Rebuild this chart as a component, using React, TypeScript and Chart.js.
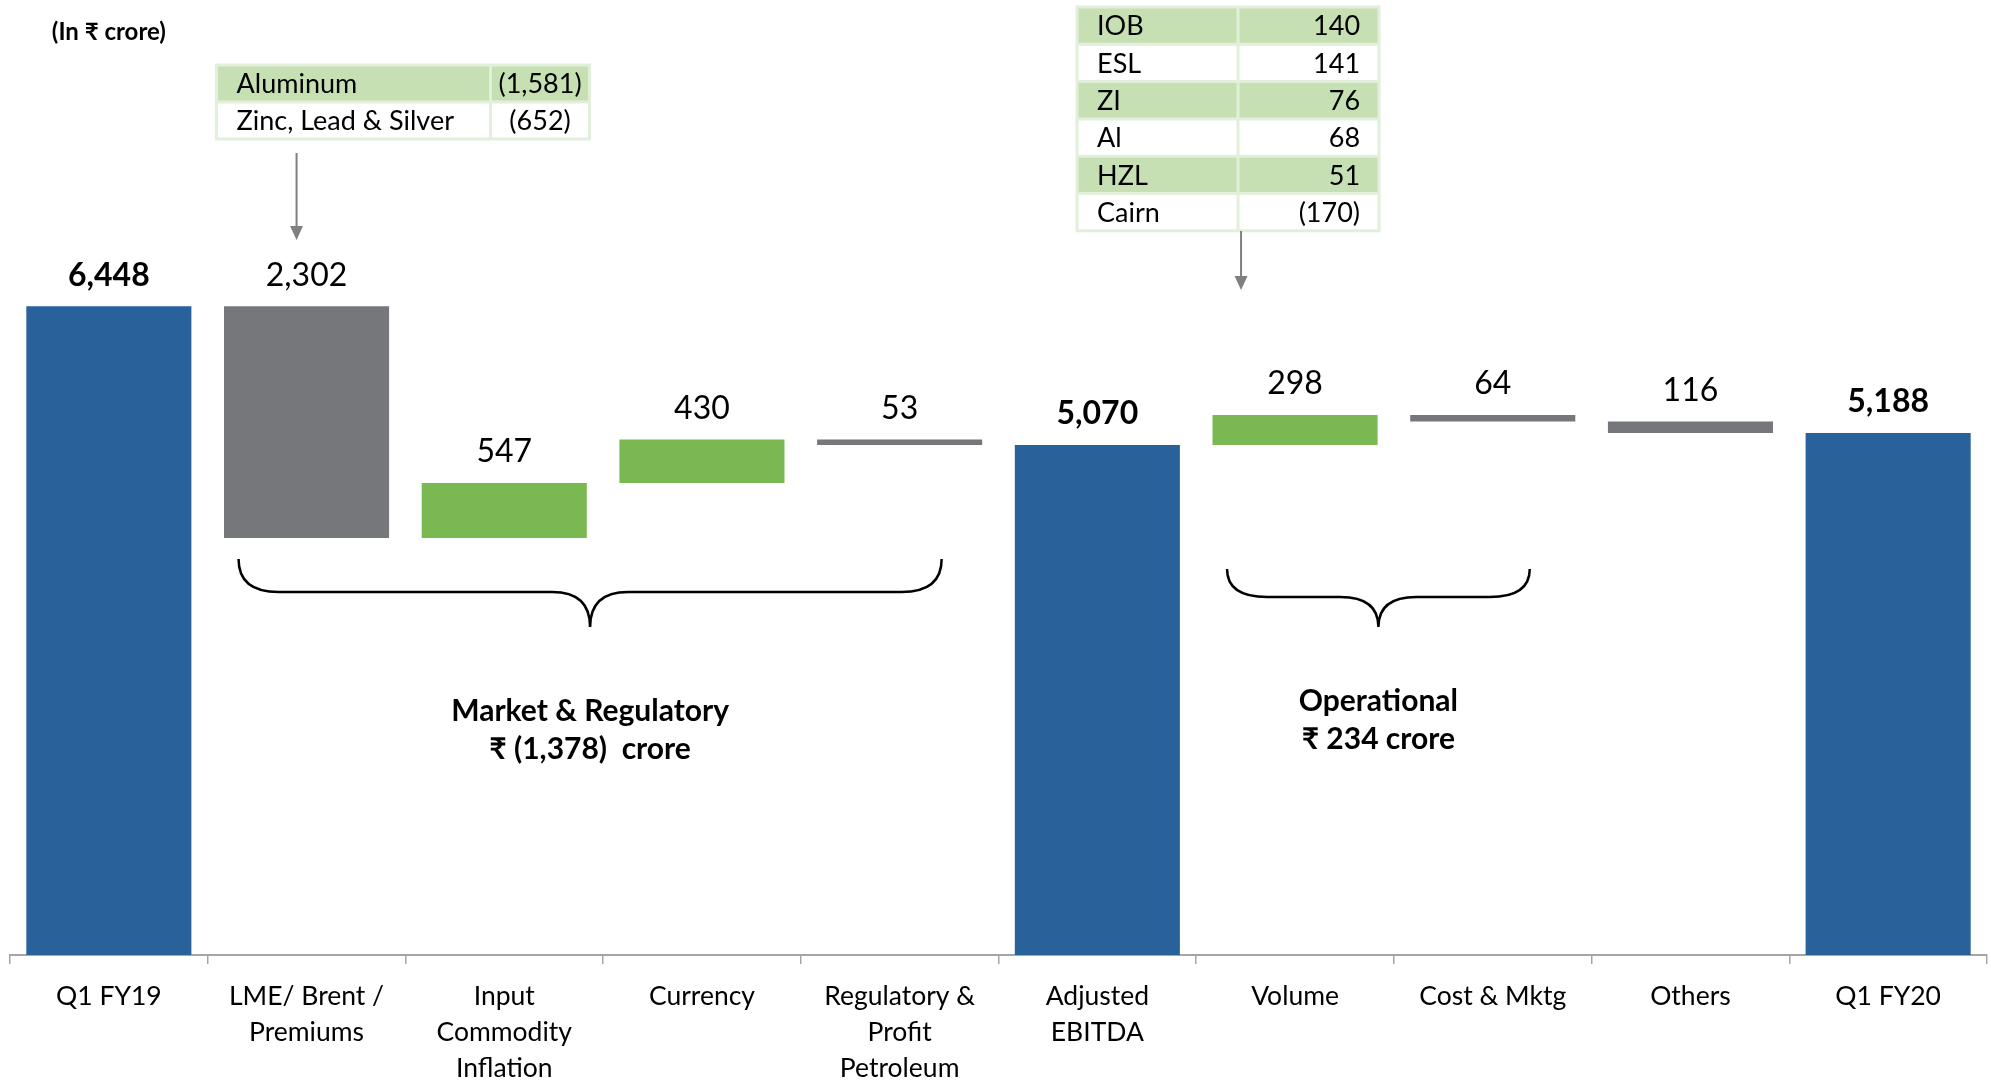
import React, { useEffect, useRef } from "react";
import { Chart, registerables } from "chart.js";

Chart.register(...registerables);

// ---------------- data ----------------
const categories: string[][] = [
  ["Q1 FY19"],
  ["LME/ Brent /", "Premiums"],
  ["Input", "Commodity", "Inflation"],
  ["Currency"],
  ["Regulatory &", "Profit", "Petroleum"],
  ["Adjusted", "EBITDA"],
  ["Volume"],
  ["Cost & Mktg"],
  ["Others"],
  ["Q1 FY20"],
];
const changes = [6448, -2302, 547, 430, -53, 5070, 298, -64, -116, 5188];
const isTotal = [true, false, false, false, false, true, false, false, false, true];
const valueLabels = ["6,448", "2,302", "547", "430", "53", "5,070", "298", "64", "116", "5,188"];

const aluminumRows: string[][] = [
  ["Aluminum", "(1,581)"],
  ["Zinc, Lead & Silver", "(652)"],
];
const operationalRows: string[][] = [
  ["IOB", "140"],
  ["ESL", "141"],
  ["ZI", "76"],
  ["Al", "68"],
  ["HZL", "51"],
  ["Cairn", "(170)"],
];
const unitLabel = "(In ₹ crore)";
const marketLabel = ["Market & Regulatory", "₹ (1,378)  crore"];
const operationalLabel = ["Operational", "₹ 234 crore"];

// ---------------- styles ----------------
const FONT = "Lato, 'Noto Sans', 'DejaVu Sans', sans-serif";
const BLUE = "#29619A";
const GRAY = "#76777B";
const GREEN = "#7AB851";
const TABLE_GREEN = "#C6E0B4";
const TABLE_BORDER = "#E2EFDA";
const AXIS = "#A6A6A6";

let running = 0;
const ranges: number[][] = changes.map((c, i) => {
  if (isTotal[i]) {
    running = c;
    return [0, c];
  }
  const start = running;
  running += c;
  return [start, running];
});
const barColors = changes.map((c, i) => (isTotal[i] ? BLUE : c >= 0 ? GREEN : GRAY));

function drawTable(
  ctx: CanvasRenderingContext2D,
  rows: string[][],
  left: number,
  top: number,
  colW: number[],
  rowH: number,
  valueAlign: "center" | "right"
) {
  const width = colW[0] + colW[1];
  const height = rowH * rows.length;
  rows.forEach((_, i) => {
    if (i % 2 === 0) {
      ctx.fillStyle = TABLE_GREEN;
      ctx.fillRect(left, top + i * rowH, width, rowH);
    }
  });
  ctx.strokeStyle = TABLE_BORDER;
  ctx.lineWidth = 3;
  ctx.strokeRect(left, top, width, height);
  for (let i = 1; i < rows.length; i++) {
    ctx.beginPath();
    ctx.moveTo(left, top + i * rowH);
    ctx.lineTo(left + width, top + i * rowH);
    ctx.stroke();
  }
  ctx.beginPath();
  ctx.moveTo(left + colW[0], top);
  ctx.lineTo(left + colW[0], top + height);
  ctx.stroke();

  ctx.fillStyle = "#000";
  ctx.font = `27px ${FONT}`;
  ctx.textBaseline = "middle";
  rows.forEach((r, i) => {
    const cy = top + i * rowH + rowH / 2 + 1;
    ctx.textAlign = "left";
    ctx.fillText(r[0], left + 20, cy);
    if (valueAlign === "center") {
      ctx.textAlign = "center";
      ctx.fillText(r[1], left + colW[0] + colW[1] / 2, cy);
    } else {
      ctx.textAlign = "right";
      ctx.fillText(r[1], left + width - 19, cy);
    }
  });
}

function drawArrow(ctx: CanvasRenderingContext2D, x: number, y0: number, y1: number) {
  ctx.strokeStyle = "#808080";
  ctx.fillStyle = "#808080";
  ctx.lineWidth = 2;
  ctx.beginPath();
  ctx.moveTo(x, y0);
  ctx.lineTo(x, y1 - 12);
  ctx.stroke();
  ctx.beginPath();
  ctx.moveTo(x - 6.5, y1 - 14);
  ctx.lineTo(x + 6.5, y1 - 14);
  ctx.lineTo(x, y1);
  ctx.closePath();
  ctx.fill();
}

function drawBrace(
  ctx: CanvasRenderingContext2D,
  left: number,
  right: number,
  top: number,
  mid: number,
  tip: number
) {
  const cx = (left + right) / 2;
  const r1 = 40;
  const r2 = 38;
  ctx.strokeStyle = "#000";
  ctx.lineWidth = 2.5;
  ctx.beginPath();
  ctx.moveTo(left, top);
  ctx.quadraticCurveTo(left, mid, left + r1, mid);
  ctx.lineTo(cx - r2, mid);
  ctx.quadraticCurveTo(cx, mid, cx, tip);
  ctx.quadraticCurveTo(cx, mid, cx + r2, mid);
  ctx.lineTo(right - r1, mid);
  ctx.quadraticCurveTo(right, mid, right, top);
  ctx.stroke();
}

const annotationsPlugin = {
  id: "waterfallAnnotations",
  afterDatasetsDraw(chart: any) {
    const ctx: CanvasRenderingContext2D = chart.ctx;
    const meta = chart.getDatasetMeta(0);
    ctx.save();
    ctx.fillStyle = "#000";
    ctx.textAlign = "center";
    ctx.textBaseline = "middle";
    meta.data.forEach((el: any, i: number) => {
      const { x, y, base } = el.getProps(["x", "y", "base"], true);
      const top = Math.min(y, base);
      ctx.font = `${isTotal[i] ? "bold " : ""}32px ${FONT}`;
      ctx.fillText(valueLabels[i], x, top - 31);
    });
    ctx.restore();
  },
  afterDraw(chart: any) {
    const ctx: CanvasRenderingContext2D = chart.ctx;
    const xs = chart.scales.x;
    const px = (i: number) => xs.getPixelForValue(i);
    ctx.save();

    // unit label
    ctx.fillStyle = "#000";
    ctx.font = `bold 24px ${FONT}`;
    ctx.textAlign = "center";
    ctx.textBaseline = "middle";
    ctx.fillText(unitLabel, px(0), 32);

    // tables + arrows
    drawTable(ctx, aluminumRows, px(1) - 90, 65, [274, 99], 37, "center");
    drawArrow(ctx, px(1) - 10, 153, 240);
    drawTable(ctx, operationalRows, px(6) - 218, 7, [161, 141], 37.3, "right");
    drawArrow(ctx, px(6) - 54, 231, 290);

    // braces
    const b1l = px(1) - 68;
    const b1r = px(4) + 42;
    drawBrace(ctx, b1l, b1r, 559, 592, 627);
    const b2l = px(6) - 68;
    const b2r = px(7) + 37;
    drawBrace(ctx, b2l, b2r, 569, 597, 627);

    ctx.fillStyle = "#000";
    ctx.font = `bold 30px ${FONT}`;
    ctx.textAlign = "center";
    ctx.textBaseline = "middle";
    ctx.fillText(marketLabel[0], (b1l + b1r) / 2, 711);
    ctx.fillText(marketLabel[1], (b1l + b1r) / 2, 749);
    ctx.fillText(operationalLabel[0], (b2l + b2r) / 2, 701);
    ctx.fillText(operationalLabel[1], (b2l + b2r) / 2, 739);
    ctx.restore();
  },
};

export default function App() {
  const ref = useRef<HTMLCanvasElement>(null);
  useEffect(() => {
    document.body.style.margin = "0";
    document.body.style.overflow = "hidden";
    const canvas = ref.current;
    if (!canvas) return;
    const chart = new Chart(canvas, {
      type: "bar",
      data: {
        labels: categories as any,
        datasets: [
          {
            data: ranges as any,
            backgroundColor: barColors,
            borderWidth: 0,
            barPercentage: 0.835,
            categoryPercentage: 1,
          },
        ],
      },
      options: {
        responsive: false,
        animation: false,
        devicePixelRatio: 1,
        layout: { padding: { left: 10, right: 4, top: 0, bottom: 0 } },
        plugins: {
          legend: { display: false },
          tooltip: { enabled: false },
          title: { display: false },
        },
        scales: {
          x: {
            grid: {
              display: true,
              drawOnChartArea: false,
              drawTicks: true,
              tickLength: 9,
              color: AXIS,
              lineWidth: 1.5,
            },
            border: { display: true, color: AXIS, width: 2 },
            ticks: {
              color: "#000",
              padding: 14,
              maxRotation: 0,
              minRotation: 0,
              autoSkip: false,
              font: { family: FONT, size: 26.5, lineHeight: 36 / 26.5 },
            },
          },
          y: {
            display: false,
            min: 0,
            max: 9493,
          },
        },
      },
      plugins: [annotationsPlugin],
    });
    return () => chart.destroy();
  }, []);
  return (
    <div style={{ width: 1991, height: 1082, position: "relative", overflow: "hidden" }}>
      <canvas ref={ref} width={1991} height={1100} style={{ display: "block" }} />
    </div>
  );
}
